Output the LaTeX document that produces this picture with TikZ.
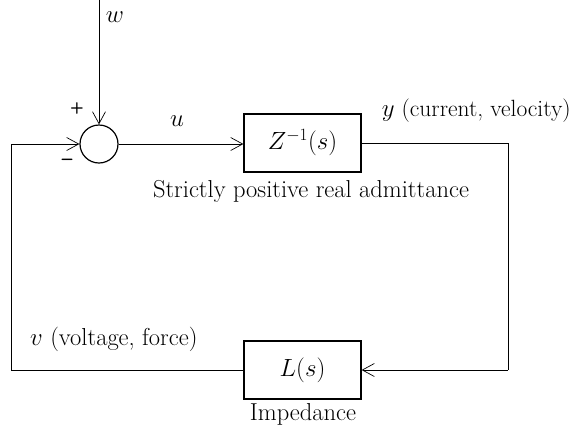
\documentclass[tikz,border=0pt]{standalone}
\usetikzlibrary{arrows.meta}
\begin{document}
\begin{tikzpicture}[x=1pt,y=-1pt,
  blk/.style={draw,line width=1.2pt,minimum width=117pt,minimum height=58pt,inner sep=0pt,font=\fontsize{24}{28}\selectfont},
  sumc/.style={draw,line width=1.2pt,circle,minimum size=38pt,inner sep=0pt},
  lbl/.style={font=\fontsize{24.5}{28}\selectfont,inner sep=0pt},
  conn/.style={line width=0.7pt,-{Straight Barb[length=12pt,width=13pt,line width=0.7pt]}},
  wire/.style={line width=0.7pt}]
\useasboundingbox (0,0) rectangle (572,432);
\node[sumc] (sum) at (99,144) {};
\node[blk] (Z) at (302.5,143) {$Z^{-1}(s)$};
\node[blk] (L) at (302.5,370) {$L(s)$};
\coordinate (wtop) at (99,0);
\coordinate (rc) at (508,143);
\coordinate (rb) at (508,370);
\coordinate (lb) at (11,370);
\coordinate (lt) at (11,144);
\draw[conn] (wtop) -- (sum.north);
\draw[conn] (sum.east) -- (Z.west |- sum.east);
\draw[wire] (Z.east) -- (rc) -- (rb);
\draw[conn] (rb) -- (L.east);
\draw[wire] (L.west) -- (lb) -- (lt);
\draw[conn] (lt) -- (sum.west);
\node[lbl] (wl) at (115,17) {$w$};
\node[lbl,font=\sffamily\bfseries\fontsize{16}{18}\selectfont] (plus) at (77,108) {+};
\node[lbl,font=\sffamily\bfseries\fontsize{20}{22}\selectfont] (minus) at (67,162) {--};
\node[lbl] (ul) at (177,121) {$u$};
\node[lbl,anchor=east,font=\fontsize{23.5}{27}\selectfont] (yl) at (571,111) {$y$ (current, velocity)};
\node[lbl] (spr) at (311,191) {Strictly positive real admittance};
\node[lbl,anchor=west] (vl) at (30,339) {$v$ (voltage, force)};
\node[lbl] (imp) at (303,414) {Impedance};
\end{tikzpicture}
\end{document}
